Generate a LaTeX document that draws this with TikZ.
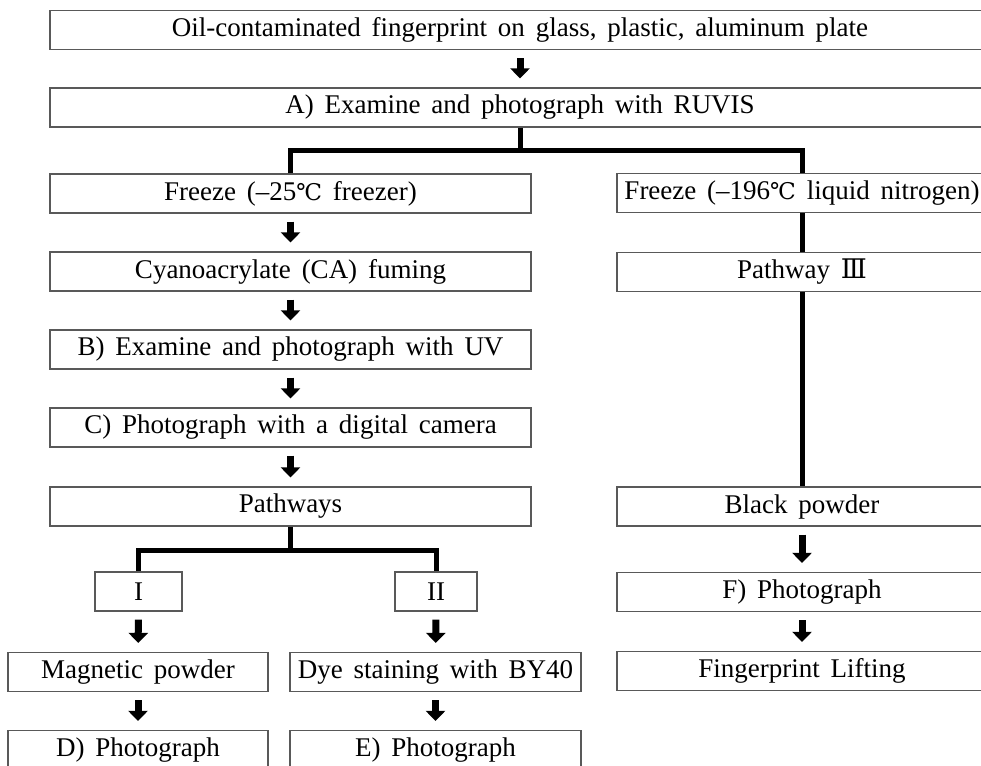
\documentclass[tikz,border=0pt]{standalone}
\usepackage{fontspec}
\setmainfont[WordSpace=1.6]{Liberation Serif}
\newfontfamily\symfont{DejaVu Serif}
\usetikzlibrary{positioning, arrows.meta, calc}

\newcommand{\degC}{{\symfont\fontsize{23}{28}\selectfont ℃}}
\newcommand{\romIII}{{\symfont Ⅲ}}

\begin{document}
\begin{tikzpicture}[
    x=1pt, y=-1pt,
    >=LaTeX,
    % Styles
    box/.style={ % Process step
        rectangle,
        draw=black!65,
        line width=1.2pt,
        minimum height=39pt,
        inner sep=0pt,
        font=\fontsize{27}{30}\selectfont
    },
    tee/.style={ % Branch lines
        line width=5pt,
        line join=miter
    },
    blockarrow/.style={
        line width=7pt,
        -{Triangle[length=10pt, width=19pt]},
        shorten <=8pt,
        shorten >=9pt
    }
]
    \useasboundingbox (0,0) rectangle (981,765);
    \clip (0,0) rectangle (981,765);

    % Top
    \node at (520, 30) [box, minimum width=940pt] (oil) {Oil-contaminated fingerprint on glass, plastic, aluminum plate};
    \node at (520, 107.5) [box, minimum width=940pt] (ruvis) {A)\ Examine and photograph with RUVIS};

    % Left column
    \node at (290.5, 193.5) [box, minimum width=481pt] (freeze_l) {Freeze (--25\degC\ freezer)};
    \node at (290.5, 271.5) [box, minimum width=481pt] (fuming) {Cyanoacrylate (CA) fuming};
    \node at (290.5, 349.5) [box, minimum width=481pt] (uv) {B)\ Examine and photograph with UV};
    \node at (290.5, 427.5) [box, minimum width=481pt] (camera) {C)\ Photograph with a digital camera};
    \node at (290.5, 506.5) [box, minimum width=481pt] (pathways) {Pathways};

    % Pathways I and II
    \node at (138.5, 591.5) [box, minimum width=87pt] (path_1) {I};
    \node at (436, 591.5) [box, minimum width=82pt] (path_2) {II};
    \node at (138, 672) [box, minimum width=260pt] (magnetic) {Magnetic powder};
    \node at (435.5, 672) [box, minimum width=291pt] (dye) {Dye staining with BY40};
    \node at (138, 750) [box, minimum width=260pt] (photo_d) {D)\ Photograph};
    \node at (435.5, 750) [box, minimum width=291pt] (photo_e) {E)\ Photograph};

    % Right column
    \node at (802, 193) [box, minimum width=370pt] (freeze_r) {Freeze (--196\degC\ liquid nitrogen)};
    \node at (802, 272) [box, minimum width=370pt] (path_3) {Pathway \romIII};
    \node at (802, 506.5) [box, minimum width=370pt] (black) {Black powder};
    \node at (802, 592) [box, minimum width=370pt] (photo_f) {F)\ Photograph};
    \node at (802, 671) [box, minimum width=370pt] (lifting) {Fingerprint Lifting};

    % Branches
    \coordinate (split_a) at ($(ruvis.south)+(0,23)$);
    \draw [tee] (ruvis.south) -- (split_a);
    \draw [tee] (freeze_l.north) |- (split_a) -| (freeze_r.north);
    \draw [tee] (freeze_r) -- (path_3);
    \draw [tee] (path_3) -- (black);

    \coordinate (split_b) at ($(pathways.south)+(0,24)$);
    \draw [tee] (pathways.south) -- (split_b);
    \draw [tee] (path_1.north) |- (split_b) -| (path_2.north);

    % Arrows
    \draw [blockarrow] (oil) -- (ruvis);
    \draw [blockarrow] (freeze_l) -- (fuming);
    \draw [blockarrow] (fuming) -- (uv);
    \draw [blockarrow] (uv) -- (camera);
    \draw [blockarrow] (camera) -- (pathways);
    \draw [blockarrow] (path_1) -- (magnetic);
    \draw [blockarrow] (path_2) -- (dye);
    \draw [blockarrow] (magnetic) -- (photo_d);
    \draw [blockarrow] (dye) -- (photo_e);
    \draw [blockarrow] (black) -- (photo_f);
    \draw [blockarrow] (photo_f) -- (lifting);
\end{tikzpicture}
\end{document}
